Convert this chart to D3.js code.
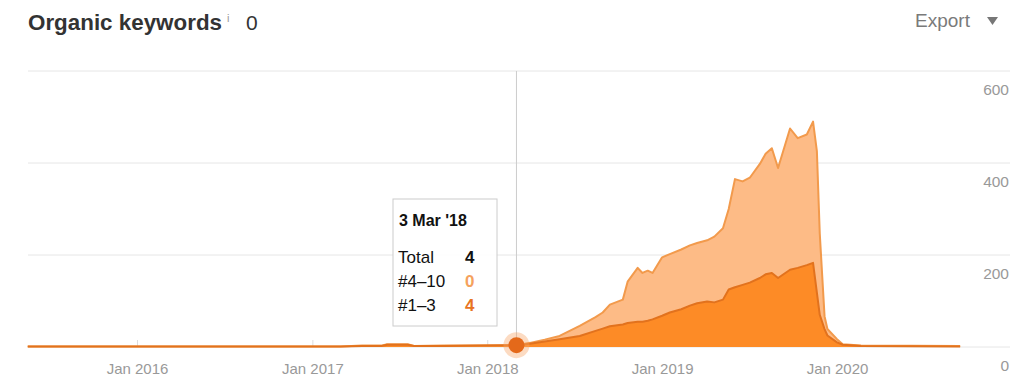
<!DOCTYPE html>
<html>
<head>
<meta charset="utf-8">
<script src="https://cdn.jsdelivr.net/npm/d3@7"></script>
<style>
  body { margin: 0; background: #fff; font-family: "Liberation Sans", Arial, sans-serif; }
  #chart svg { display: block; }
</style>
</head>
<body>
<div id="chart"></div>
<script>
// ---- data ----
const dates = [
  "2015-05-18", "2016-06-01", "2017-03-01", "2017-04-15", "2017-05-25", "2017-06-06",
  "2017-07-19", "2017-08-01", "2017-10-01", "2017-12-15", "2018-03-03", "2018-03-31",
  "2018-05-01", "2018-06-01", "2018-07-13", "2018-08-15", "2018-08-30", "2018-09-14",
  "2018-10-11", "2018-10-21", "2018-11-11", "2018-11-21", "2018-12-02", "2018-12-12",
  "2019-01-01", "2019-01-17", "2019-02-10", "2019-02-28", "2019-03-15", "2019-04-05",
  "2019-04-20", "2019-05-08", "2019-05-20", "2019-06-02", "2019-06-18", "2019-07-03",
  "2019-07-24", "2019-08-05", "2019-08-18", "2019-08-31", "2019-09-25", "2019-10-11",
  "2019-10-30", "2019-11-12", "2019-11-20", "2019-11-26", "2019-12-06", "2019-12-12",
  "2020-01-01", "2020-01-13", "2020-02-20", "2020-09-14"
];
// #1–3 positions
const top3 = [
  1, 1, 1, 2, 2, 5,
  5, 2, 2, 3, 4, 7,
  12, 17, 24, 35, 40, 45,
  49, 52, 55, 55, 57, 60,
  68, 75, 82, 90, 95, 99,
  97, 103, 125, 130, 135, 140,
  150, 158, 161, 150, 168, 172,
  178, 183, 118, 70, 39, 25,
  10, 5, 2, 1
];
// total keywords (#1–3 + #4–10)
const total = [
  1, 1, 1, 3, 3, 6,
  6, 2, 3, 3, 4, 9,
  16, 24, 46, 65, 75, 92,
  103, 142, 172, 161, 166, 161,
  195, 202, 212, 221, 226, 232,
  240, 258, 300, 365, 360, 368,
  398, 420, 432, 389, 475, 454,
  462, 490, 426, 247, 67, 39,
  17, 6, 3, 2
];
const top10 = total.map((t, i) => t - top3[i]);
const yTicks = [0, 200, 400, 600];
const xTicks = ["2016-01-01", "2017-01-01", "2018-01-01", "2019-01-01", "2020-01-01"];
const tipDate = "2018-03-03";
const tipRows = [["Total", 4], ["#4\u201310", 0], ["#1\u20133", 4]];

// ---- chart ----
const W = 1024, H = 383;
const parse = d3.timeParse("%Y-%m-%d");
const rows = dates.map((d, i) => ({ date: parse(d), top3: top3[i], top10: top10[i] }));

const svg = d3.select("#chart").append("svg").attr("width", W).attr("height", H);

const x = d3.scaleTime()
  .domain([parse("2016-01-01"), parse("2020-01-01")])
  .range([137, 837]);
const y = d3.scaleLinear().domain([0, 600]).range([347, 71]);

// title
svg.append("text").attr("x", 28).attr("y", 30)
  .attr("font-size", 22).attr("font-weight", "bold").attr("fill", "#333")
  .attr("textLength", 194).attr("lengthAdjust", "spacingAndGlyphs")
  .text("Organic keywords");
svg.append("text").attr("x", 227).attr("y", 22)
  .attr("font-size", 11).attr("fill", "#999").text("i");
svg.append("text").attr("x", 246).attr("y", 30)
  .attr("font-size", 21).attr("fill", "#333").text("0");
svg.append("text").attr("x", 915).attr("y", 27)
  .attr("font-size", 19).attr("fill", "#7a7a7a").text("Export");
svg.append("path").attr("d", "M987,17 L998,17 L992.5,25 Z").attr("fill", "#777");

// gridlines + right labels
svg.append("g").selectAll("line").data(yTicks).join("line")
  .attr("x1", 28).attr("x2", 1010)
  .attr("y1", d => y(d)).attr("y2", d => y(d))
  .attr("stroke", "#e6e6e6").attr("stroke-width", 1);
svg.append("g").selectAll("text").data(yTicks).join("text")
  .attr("x", 1009).attr("y", d => y(d) + 24)
  .attr("text-anchor", "end").attr("font-size", 15.5).attr("fill", "#999")
  .text(d => d);

// x axis (ticks point up from the baseline)
const xAxis = d3.axisBottom(x)
  .tickValues(xTicks.map(parse))
  .tickFormat(d3.timeFormat("Jan %Y"))
  .tickSize(-7).tickPadding(16);
const gx = svg.append("g").attr("transform", `translate(0,${y(0)})`).call(xAxis);
gx.select(".domain").remove();
gx.selectAll(".tick line").attr("stroke", "#ddd");
gx.selectAll(".tick text").attr("font-size", 15).attr("fill", "#999")
  .attr("font-family", "Liberation Sans, Arial, sans-serif");

// stacked areas
const stack = d3.stack().keys(["top3", "top10"]);
const series = stack(rows);
const area = d3.area().x(d => x(d.data.date)).y0(d => y(d[0])).y1(d => y(d[1]));
const line = d3.line().x(d => x(d.data.date)).y(d => y(d[1]));
const fills = ["#fd8b26", "#fdbb86"];
const strokes = ["#e2721d", "#f29a4c"];

// draw upper layer first so lower line sits on top
[1, 0].forEach(i => {
  svg.append("path").datum(series[i]).attr("d", area).attr("fill", fills[i]);
});
[1, 0].forEach(i => {
  svg.append("path").datum(series[i]).attr("d", line)
    .attr("fill", "none").attr("stroke", strokes[i]).attr("stroke-width", 2)
    .attr("stroke-linejoin", "round");
});

// crosshair + hovered point
const tx = x(parse(tipDate));
svg.append("line").attr("x1", tx).attr("x2", tx).attr("y1", 71).attr("y2", y(0))
  .attr("stroke", "#ccc").attr("stroke-width", 1);
svg.append("circle").attr("cx", tx).attr("cy", y(4)).attr("r", 13)
  .attr("fill", "#f7a466").attr("fill-opacity", 0.4);
svg.append("circle").attr("cx", tx).attr("cy", y(4)).attr("r", 8)
  .attr("fill", "#e4691a");

// tooltip
const tip = svg.append("g").attr("transform", "translate(393,199)");
tip.append("rect").attr("width", 104).attr("height", 127)
  .attr("fill", "#fff").attr("fill-opacity", 0.92)
  .attr("stroke", "#ccc").attr("stroke-width", 1);
tip.append("text").attr("x", 6).attr("y", 27)
  .attr("font-size", 16).attr("font-weight", "bold").attr("fill", "#111")
  .text(d3.timeFormat("%-d %b '%y")(parse(tipDate)));
const valColors = ["#111", "#f5a25d", "#e8741f"];
tipRows.forEach((r, i) => {
  tip.append("text").attr("x", 5).attr("y", 64 + i * 24)
    .attr("font-size", 17).attr("fill", "#111").text(r[0]);
  tip.append("text").attr("x", 72).attr("y", 64 + i * 24)
    .attr("font-size", 17).attr("font-weight", "bold").attr("fill", valColors[i])
    .text(r[1]);
});
</script>
</body>
</html>
